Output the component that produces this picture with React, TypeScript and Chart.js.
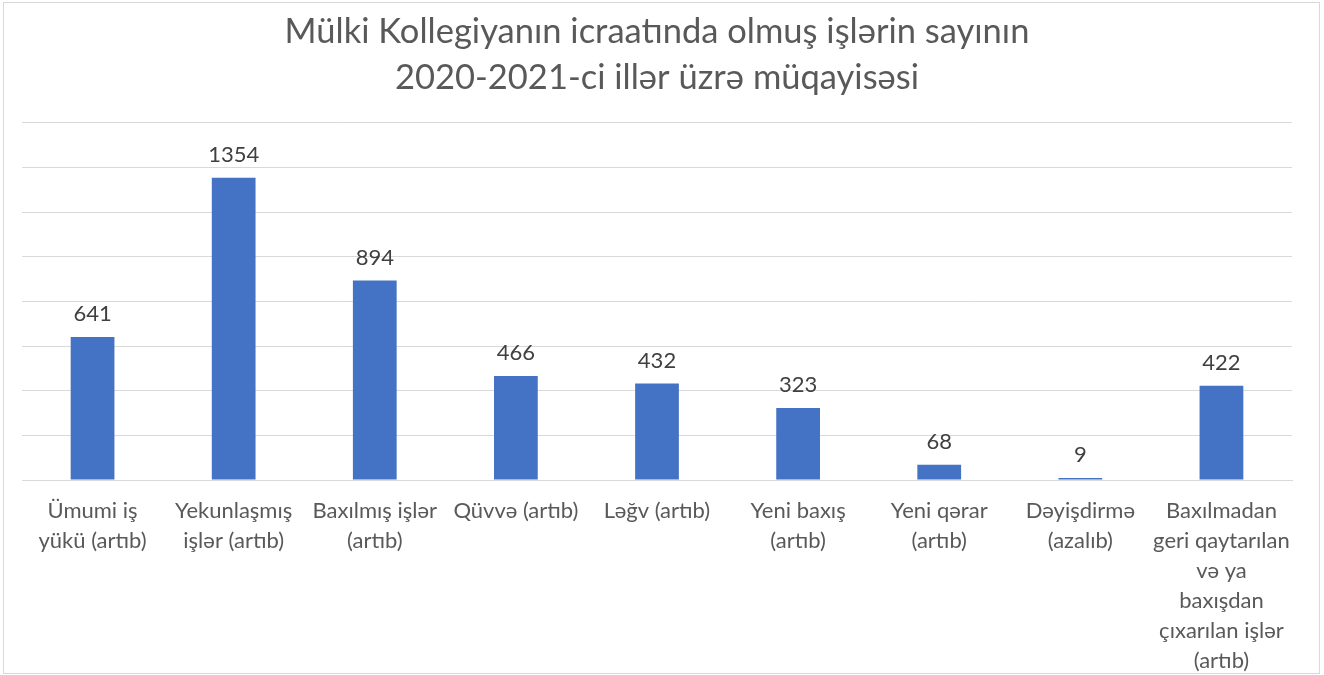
import React, { useEffect, useRef } from "react";
import { Chart, registerables } from "chart.js";

Chart.register(...registerables);

const titleLines = [
  "Mülki Kollegiyanın icraatında olmuş işlərin sayının",
  "2020-2021-ci illər üzrə müqayisəsi",
];

const categories: (string | string[])[] = [
  ["Ümumi iş", "yükü (artıb)"],
  ["Yekunlaşmış", "işlər (artıb)"],
  ["Baxılmış işlər", "(artıb)"],
  "Qüvvə (artıb)",
  "Ləğv (artıb)",
  ["Yeni baxış", "(artıb)"],
  ["Yeni qərar", "(artıb)"],
  ["Dəyişdirmə", "(azalıb)"],
  ["Baxılmadan", "geri qaytarılan", "və ya", "baxışdan", "çıxarılan işlər", "(artıb)"],
];

const values = [641, 1354, 894, 466, 432, 323, 68, 9, 422];

const yMax = 1600;
const yStep = 200;

const FONT = "Lato, 'Open Sans', sans-serif";

const valueLabels = {
  id: "valueLabels",
  afterDatasetsDraw(chart: any) {
    const ctx = chart.ctx;
    const meta = chart.getDatasetMeta(0);
    ctx.save();
    ctx.font = `22px ${FONT}`;
    ctx.fillStyle = "#404040";
    ctx.textAlign = "center";
    ctx.textBaseline = "middle";
    meta.data.forEach((bar: any, i: number) => {
      ctx.fillText(String(values[i]), bar.x, bar.y - 23);
    });
    ctx.restore();
  },
};

const frame = {
  id: "frame",
  beforeDraw(chart: any) {
    const ctx = chart.ctx;
    ctx.save();
    ctx.fillStyle = "#ffffff";
    ctx.fillRect(0, 0, chart.width, chart.height);
    ctx.strokeStyle = "#d9d9d9";
    ctx.lineWidth = 1;
    ctx.strokeRect(3.5, 2.5, 1316, 671);
    ctx.restore();
  },
};

export default function App() {
  const ref = useRef<HTMLCanvasElement | null>(null);
  useEffect(() => {
    if (!ref.current) return;
    const chart = new Chart(ref.current, {
      type: "bar",
      data: {
        labels: categories,
        datasets: [
          {
            data: values,
            backgroundColor: "#4472C4",
            borderWidth: 0,
            barPercentage: 0.31,
            categoryPercentage: 1,
          },
        ],
      },
      options: {
        animation: false,
        responsive: false,
        maintainAspectRatio: false,
        layout: { padding: { left: 22, right: 32, top: 0, bottom: 0 } },
        plugins: {
          legend: { display: false },
          tooltip: { enabled: false },
          title: {
            display: true,
            text: titleLines,
            color: "#595959",
            font: { family: FONT, size: 34.5, weight: "normal", lineHeight: 1.333 },
            padding: { top: 9, bottom: 22 },
          },
        },
        scales: {
          x: {
            grid: { display: false, drawTicks: false },
            border: { display: true, color: "#d9d9d9", width: 1 },
            ticks: {
              color: "#595959",
              font: { family: FONT, size: 22, lineHeight: 1.364 },
              padding: 16,
              maxRotation: 0,
              autoSkip: false,
            },
            afterFit: (scale: any) => {
              scale.height = 195;
            },
          },
          y: {
            min: 0,
            max: yMax,
            ticks: { display: false, stepSize: yStep },
            grid: { color: "#d9d9d9", drawTicks: false },
            border: { display: false },
          },
        },
      },
      plugins: [frame, valueLabels],
    });
    return () => chart.destroy();
  }, []);
  return (
    <div style={{ position: "absolute", left: 0, top: 0, width: 1324, height: 675 }}>
      <canvas ref={ref} width={1324} height={675} style={{ display: "block" }} />
    </div>
  );
}
